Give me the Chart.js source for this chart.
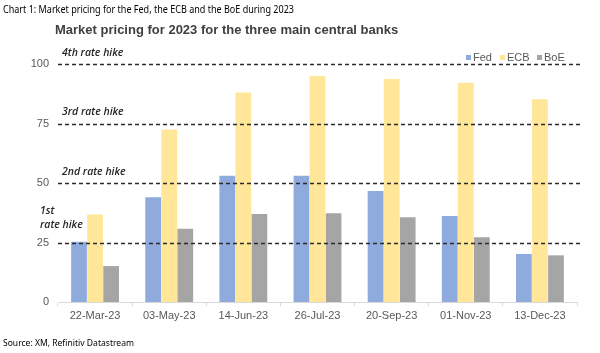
<!DOCTYPE html>
<html>
<head>
<meta charset="utf-8">
<script src="https://cdn.jsdelivr.net/npm/chart.js@4"></script>
<style>
  html, body { margin: 0; padding: 0; background: #fff; }
  #wrap { position: relative; width: 600px; height: 353px; }
  canvas { display: block; }
</style>
</head>
<body>
<div id="wrap"><canvas id="c" width="600" height="353"></canvas></div>
<script>
const categories = ["22-Mar-23", "03-May-23", "14-Jun-23", "26-Jul-23", "20-Sep-23", "01-Nov-23", "13-Dec-23"];
const fedValues = [25.3, 44, 53, 53, 46.6, 36.1, 20.2];
const ecbValues = [36.8, 72.5, 88, 95, 93.7, 92.1, 85.2];
const boeValues = [15.1, 30.8, 37, 37.3, 35.6, 27.2, 19.6];
const yTicks = [0, 25, 50, 75, 100];
const hikeLevels = [25, 50, 75, 100];
const hikeLabels = [["1st", "rate hike"], ["2nd rate hike"], ["3rd rate hike"], ["4th rate hike"]];
const headerText = "Chart 1: Market pricing for the Fed, the ECB and the BoE during 2023";
const titleText = "Market pricing for 2023 for the three main central banks";
const sourceText = "Source: XM, Refinitiv Datastream";

const overlay = {
  id: "overlay",
  afterDatasetsDraw(chart) {
    const ctx = chart.ctx;
    const y = chart.scales.y;
    const area = chart.chartArea;
    ctx.save();
    ctx.strokeStyle = "#2b2b2b";
    ctx.lineWidth = 1.5;
    ctx.setLineDash([4, 3]);
    hikeLevels.forEach(v => {
      const py = Math.round(y.getPixelForValue(v)) + 0.5;
      ctx.beginPath();
      ctx.moveTo(area.left, py);
      ctx.lineTo(area.right + 3, py);
      ctx.stroke();
    });
    ctx.setLineDash([]);
    ctx.fillStyle = "#262626";
    ctx.font = "italic 600 10.5px 'Open Sans', sans-serif";
    ctx.textBaseline = "middle";
    ctx.textAlign = "left";
    hikeLevels.forEach((v, i) => {
      const py = y.getPixelForValue(v);
      const lines = hikeLabels[i];
      if (lines.length === 2) {
        ctx.fillText(lines[0], 40, py - 31);
        ctx.fillText(lines[1], 40, py - 17);
      } else {
        ctx.fillText(lines[0], area.left + 4, py - 11);
      }
    });
    ctx.restore();
  },
  afterDraw(chart) {
    const ctx = chart.ctx;
    ctx.save();
    ctx.textBaseline = "middle";
    ctx.textAlign = "left";
    ctx.fillStyle = "#000";
    ctx.save();
    ctx.translate(3, 10);
    ctx.scale(0.86, 1);
    ctx.font = "10.5px 'Noto Sans', sans-serif";
    ctx.fillText(headerText, 0, 0);
    ctx.restore();
    ctx.fillStyle = "#404040";
    ctx.font = "bold 13px 'Liberation Sans', Arial, sans-serif";
    ctx.fillText(titleText, 55, 30);
    ctx.fillStyle = "#000";
    ctx.save();
    ctx.translate(3, 343);
    ctx.scale(0.9, 1);
    ctx.font = "9.5px 'Noto Sans', sans-serif";
    ctx.fillText(sourceText, 0, 0);
    ctx.restore();
    ctx.font = "11px 'Liberation Sans', Arial, sans-serif";
    const legendX = [466, 500, 537];
    chart.data.datasets.forEach((ds, i) => {
      ctx.fillStyle = ds.backgroundColor;
      ctx.fillRect(legendX[i], 55, 5, 5);
      ctx.fillStyle = "#595959";
      ctx.fillText(ds.label, legendX[i] + 7, 58);
    });
    ctx.restore();
  }
};

new Chart(document.getElementById("c"), {
  type: "bar",
  data: {
    labels: categories,
    datasets: [
      { label: "Fed", data: fedValues, backgroundColor: "#8FAADC" },
      { label: "ECB", data: ecbValues, backgroundColor: "#FFE699" },
      { label: "BoE", data: boeValues, backgroundColor: "#A5A5A5" }
    ]
  },
  options: {
    responsive: false,
    animation: false,
    devicePixelRatio: 1,
    layout: { padding: { left: 0, right: 23, top: 64, bottom: 0 } },
    datasets: { bar: { categoryPercentage: 0.65, barPercentage: 0.98 } },
    plugins: { legend: { display: false }, title: { display: false }, tooltip: { enabled: false } },
    scales: {
      x: {
        afterFit(s) { s.height = 51; },
        grid: { display: true, drawOnChartArea: false, offset: true, tickLength: 4, color: "#d9d9d9" },
        border: { color: "#d9d9d9", width: 1 },
        ticks: { color: "#595959", font: { family: "'Liberation Sans', Arial, sans-serif", size: 11 }, padding: 3, maxRotation: 0 }
      },
      y: {
        min: 0, max: 100,
        afterFit(s) { s.width = 58; },
        afterBuildTicks(s) { s.ticks = yTicks.map(v => ({ value: v })); },
        grid: { display: false, drawTicks: false },
        border: { display: false },
        ticks: { color: "#595959", font: { family: "'Liberation Sans', Arial, sans-serif", size: 11 }, padding: 9 }
      }
    }
  },
  plugins: [overlay]
});
</script>
</body>
</html>
